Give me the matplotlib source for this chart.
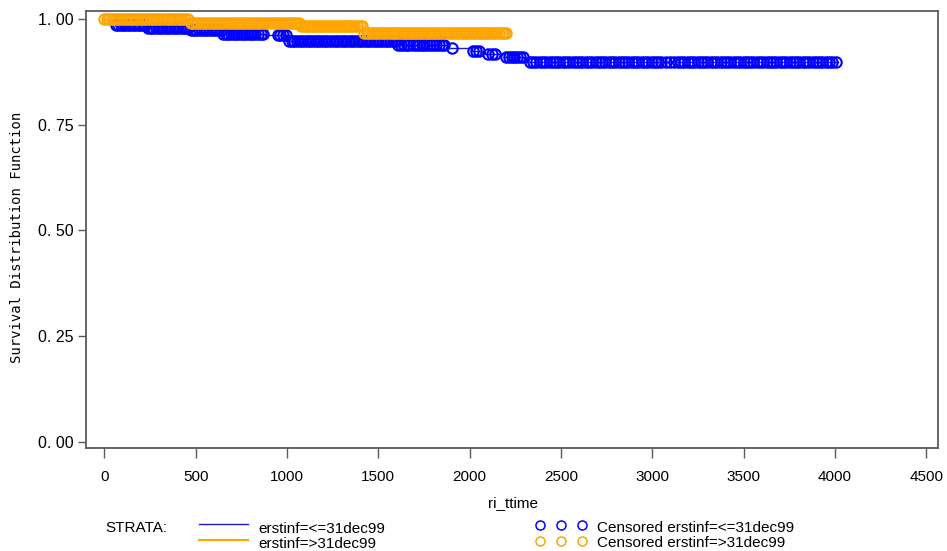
import numpy as np
import matplotlib
matplotlib.use("Agg")
import matplotlib.pyplot as plt
from matplotlib.lines import Line2D

# ---- data ----
blue_event_t = [0, 57, 233, 468, 643, 879, 1005, 1602, 1880, 2013, 2085, 2190, 2300]
blue_surv = [1.0, 0.986, 0.979, 0.974, 0.965, 0.961, 0.949, 0.939, 0.931, 0.924, 0.917, 0.910, 0.898]
blue_end = 4017
blue_cens = [62, 75, 88, 101, 115, 128, 140, 156, 170, 183, 197, 210, 224,
             240, 255, 268, 282, 297, 310, 326, 341, 355, 370, 384, 399, 413, 428, 442, 457,
             475, 490, 504, 520, 533, 548, 563, 578, 592, 607, 622, 636,
             650, 664, 679, 694, 708, 723, 737, 752, 767, 781, 796, 810, 825, 840, 855, 869,
             948, 962, 978, 992,
             1012, 1026, 1040, 1055, 1070, 1084, 1099, 1113, 1128, 1143, 1157, 1172, 1187, 1201,
             1216, 1231, 1245, 1260, 1275, 1290, 1304, 1319, 1334, 1348, 1363, 1378, 1392, 1407,
             1422, 1437, 1451, 1466, 1481, 1495, 1510, 1525, 1540, 1555, 1570, 1585, 1597,
             1610, 1625, 1640, 1655, 1670, 1690, 1705, 1722, 1737, 1752, 1768, 1785, 1800, 1815,
             1830, 1848, 1862, 1905,
             2020, 2035, 2050,
             2100, 2120, 2140,
             2200, 2215, 2230, 2245, 2260, 2275, 2290,
             2330, 2348, 2366, 2384, 2402, 2420, 2438, 2456, 2474, 2492, 2510, 2528, 2546, 2564,
             2582, 2600, 2618, 2636, 2654, 2672, 2690, 2708, 2726, 2744, 2762, 2780, 2798, 2816,
             2834, 2852, 2870, 2888, 2906, 2924, 2942, 2960, 2978, 2996, 3014, 3032, 3050, 3075,
             3098, 3118, 3140, 3158, 3176, 3194, 3212, 3230, 3248, 3266, 3284, 3302, 3320, 3338,
             3356, 3374, 3392, 3410, 3428, 3446, 3464, 3482, 3500, 3518, 3536, 3554, 3572, 3590,
             3608, 3626, 3644, 3662, 3680, 3698, 3716, 3734, 3752, 3770, 3788, 3806, 3824, 3842,
             3860, 3878, 3896, 3914, 3932, 3950, 3968, 3986, 4004]

orange_event_t = [0, 468, 1071, 1416]
orange_surv = [1.0, 0.991, 0.983, 0.967]
orange_end = 2204
orange_cens = [0, 12, 26, 40, 55, 68, 82, 97, 110, 124, 139, 153, 167, 181, 196, 210, 224,
               239, 253, 268, 282, 296, 311, 325, 340, 354, 369, 383, 398, 412, 427, 441, 456,
               472, 486, 500, 515, 529, 544, 558, 573, 587, 602, 616, 631, 645, 660, 674, 689,
               703, 718, 732, 747, 761, 776, 790, 805, 819, 834, 848, 863, 877, 892, 906, 921,
               935, 950, 964, 979, 993, 1008, 1022, 1037, 1051, 1066,
               1078, 1092, 1107, 1121, 1136, 1150, 1165, 1179, 1194, 1208, 1223, 1237, 1252,
               1266, 1281, 1295, 1310, 1324, 1339, 1353, 1368, 1382, 1397, 1410,
               1422, 1436, 1451, 1465, 1480, 1494, 1509, 1523, 1538, 1552, 1567, 1581, 1596,
               1610, 1625, 1639, 1654, 1668, 1683, 1697, 1712, 1726, 1741, 1755, 1770, 1784,
               1799, 1813, 1828, 1842, 1857, 1871, 1886, 1900, 1915, 1929, 1944, 1958, 1973,
               1987, 2002, 2016, 2031, 2045, 2060, 2074, 2089, 2103, 2118, 2132, 2147, 2161,
               2176, 2190, 2200]

x_ticks = [0, 500, 1000, 1500, 2000, 2500, 3000, 3500, 4000, 4500]
y_ticks = [0.0, 0.25, 0.5, 0.75, 1.0]
y_ticklabels = ["0. 00", "0. 25", "0. 50", "0. 75", "1. 00"]

BLUE = "#0000FF"
BLUE_LINE = "#1a1acc"
ORANGE = "#FFA500"
FRAME = "#5a5a5a"

fig = plt.figure(figsize=(9.47, 5.51), dpi=100)
ax = fig.add_axes([86/947, (551-448)/551, (938-86)/947, (448-11)/551])


def surv_at(ev_t, surv, t):
    idx = np.searchsorted(np.asarray(ev_t), np.asarray(t), side="right") - 1
    return np.asarray(surv)[idx]


for ev_t, surv, end, cens, lc, mc in [
        (blue_event_t, blue_surv, blue_end, blue_cens, BLUE_LINE, BLUE),
        (orange_event_t, orange_surv, orange_end, orange_cens, ORANGE, ORANGE)]:
    xs = list(ev_t) + [end]
    ys = list(surv) + [surv[-1]]
    ax.step(xs, ys, where="post", color=lc, lw=1.0, zorder=2)
    ax.plot(cens, surv_at(ev_t, surv, cens), linestyle="none", marker="o",
            ms=7.5, mfc="none", mec=mc, mew=1.5, zorder=3)

ax.set_xlim(-101, 4565)
ax.set_ylim(-0.0142, 1.0189)
ax.set_xticks(x_ticks)
ax.set_xticklabels([str(v) for v in x_ticks], fontsize=11, family="Liberation Sans")
ax.set_yticks(y_ticks)
ax.set_yticklabels(y_ticklabels, fontsize=11.5, family="Liberation Sans")
ax.tick_params(axis="x", direction="out", length=7, width=1, color=FRAME, pad=9)
ax.tick_params(axis="y", direction="out", length=6, width=1, color=FRAME, pad=3)
for s in ax.spines.values():
    s.set_color(FRAME)
    s.set_linewidth(1.3)

fig.text(17/947, 1-237/551, "Survival Distribution Function", rotation=90,
         ha="center", va="center", fontsize=10, family="DejaVu Sans Mono")
fig.text(513/947, 1-503/551, "ri_ttime", ha="center", va="center",
         fontsize=11, family="Liberation Sans")

# legend
fs = 11
fig.text(105/947, 1-528/551, "STRATA:", ha="left", va="center", fontsize=fs, family="Liberation Sans")
fig.add_artist(Line2D([199/947, 248/947], [1-524/551, 1-524/551], color=BLUE_LINE, lw=1.0))
fig.add_artist(Line2D([199/947, 248/947], [1-540/551, 1-540/551], color=ORANGE, lw=1.5))
fig.text(258/947, 1-529/551, "erstinf=<=31dec99", ha="left", va="center", fontsize=fs, family="Liberation Sans")
fig.text(258/947, 1-544/551, "erstinf=>31dec99", ha="left", va="center", fontsize=fs, family="Liberation Sans")
for yy, c in [(525, BLUE), (541, ORANGE)]:
    fig.add_artist(Line2D([540/947, 561/947, 582/947], [1-yy/551]*3, linestyle="none",
                          marker="o", ms=6.5, mfc="none", mec=c, mew=1.1))
fig.text(597/947, 1-528/551, "Censored erstinf=<=31dec99", ha="left", va="center", fontsize=fs, family="Liberation Sans")
fig.text(597/947, 1-543/551, "Censored erstinf=>31dec99", ha="left", va="center", fontsize=fs, family="Liberation Sans")

fig.savefig("out.png", dpi=100)
